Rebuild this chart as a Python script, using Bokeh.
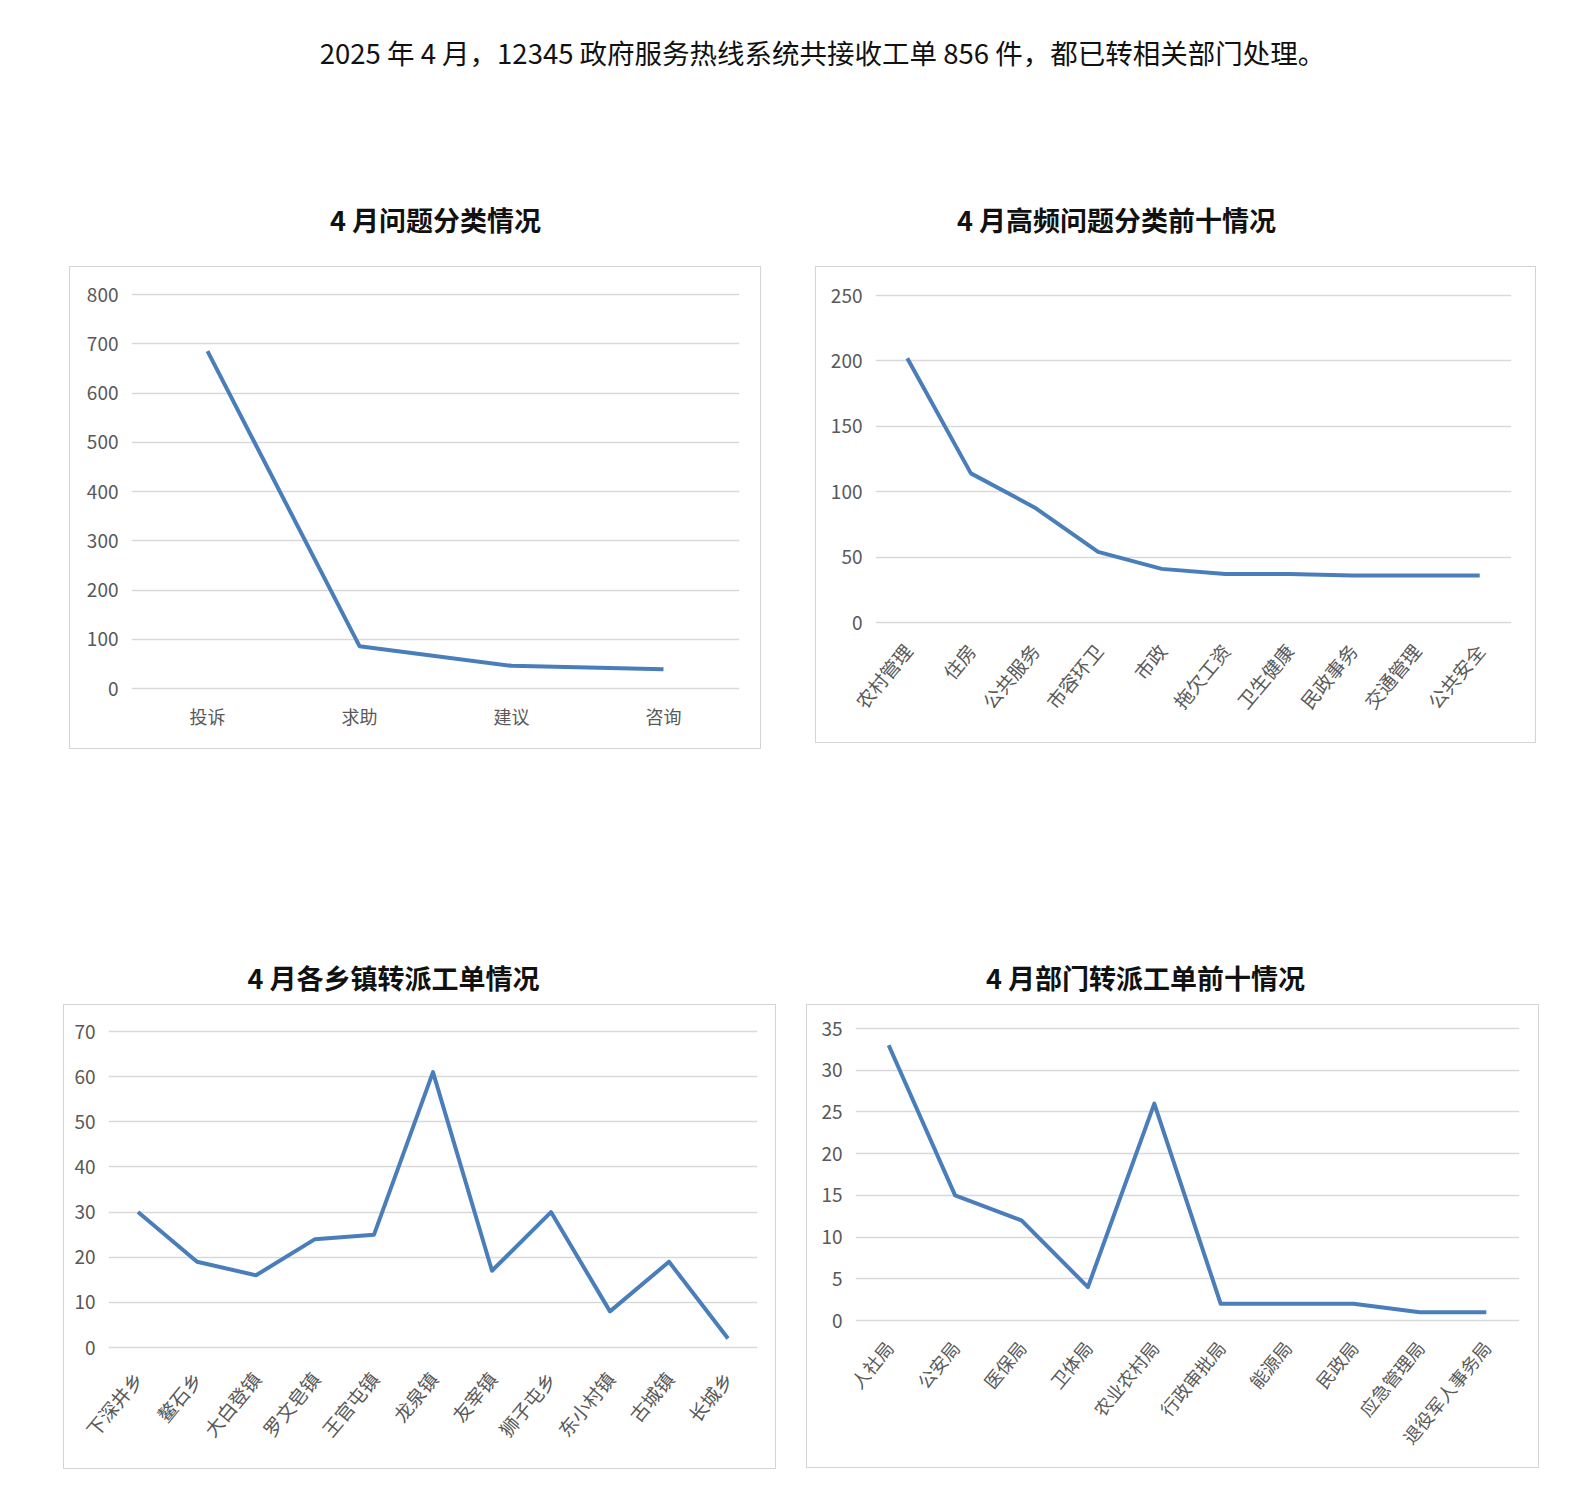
from bokeh.plotting import figure
from bokeh.models import Range1d, FactorRange, FixedTicker, Label, Spacer
from bokeh.layouts import row, column
from bokeh.embed import file_html
from bokeh.resources import INLINE

# ---------------- data ----------------
page_title = "2025 年 4 月，12345 政府服务热线系统共接收工单 856 件，都已转相关部门处理。"

title_a = "4 月问题分类情况"
cats_a = ["投诉", "求助", "建议", "咨询"]
vals_a = [685, 86, 46, 39]
ticks_a = [0, 100, 200, 300, 400, 500, 600, 700, 800]

title_b = "4 月高频问题分类前十情况"
cats_b = ["农村管理", "住房", "公共服务", "市容环卫", "市政", "拖欠工资", "卫生健康", "民政事务", "交通管理", "公共安全"]
vals_b = [202, 114, 88, 54, 41, 37, 37, 36, 36, 36]
ticks_b = [0, 50, 100, 150, 200, 250]

title_c = "4 月各乡镇转派工单情况"
cats_c = ["下深井乡", "鳌石乡", "大白登镇", "罗文皂镇", "王官屯镇", "龙泉镇", "友宰镇", "狮子屯乡", "东小村镇", "古城镇", "长城乡"]
vals_c = [30, 19, 16, 24, 25, 61, 17, 30, 8, 19, 2]
ticks_c = [0, 10, 20, 30, 40, 50, 60, 70]

title_d = "4 月部门转派工单前十情况"
cats_d = ["人社局", "公安局", "医保局", "卫体局", "农业农村局", "行政审批局", "能源局", "民政局", "应急管理局", "退役军人事务局"]
vals_d = [33, 15, 12, 4, 26, 2, 2, 2, 1, 1]
ticks_d = [0, 5, 10, 15, 20, 25, 30, 35]

FONT = "Noto Sans CJK SC"
LINE_COLOR = "#4a7ebb"
GRID_COLOR = "#d9d9d9"
LABEL_COLOR = "#595959"


def text_fig(w, h, text, x, y_from_top, size, bold):
    p = figure(width=w, height=h, output_backend="svg", toolbar_location=None,
               x_range=Range1d(0, 1), y_range=Range1d(0, 1),
               x_axis_type=None, y_axis_type=None, min_border=0)
    p.outline_line_color = None
    p.grid.visible = False
    p.add_layout(Label(x=x, y=h - y_from_top, x_units="screen", y_units="screen",
                       text=text, text_font=FONT, text_font_size=f"{size}px",
                       text_font_style="bold" if bold else "normal",
                       text_color="#111111", text_align="center", text_baseline="middle"))
    return p


def chart(w, h, cats, vals, ticks, ymax, mb, rotate, standoff, cat_size):
    left, right, top, bottom = mb
    frame_h = h - top - bottom
    pad = 2.0 * ymax / frame_h
    p = figure(width=w, height=h, output_backend="svg", toolbar_location=None,
               x_range=FactorRange(*cats, range_padding=0),
               y_range=Range1d(-pad, ymax + pad),
               min_border_left=left, min_border_right=right,
               min_border_top=top - 2, min_border_bottom=bottom - 2)
    p.line(x=cats, y=vals, line_color=LINE_COLOR, line_width=4, line_join="round")
    p.outline_line_color = None
    p.xgrid.visible = False
    p.ygrid.grid_line_color = GRID_COLOR
    p.ygrid.grid_line_width = 1.5
    p.yaxis.ticker = FixedTicker(ticks=ticks)
    for ax in (p.xaxis, p.yaxis):
        ax.axis_line_color = None
        ax.major_tick_line_color = None
        ax.minor_tick_line_color = None
        ax.major_tick_out = 0
        ax.major_tick_in = 0
        ax.major_label_text_font = FONT
        ax.major_label_text_color = LABEL_COLOR
    p.yaxis.major_label_text_font_size = "19px"
    p.xaxis.major_label_text_font_size = f"{cat_size}px"
    p.yaxis.major_label_standoff = 13
    p.xaxis.major_label_standoff = standoff
    if rotate:
        p.xaxis.major_label_orientation = 0.88
    p.styles = {"border": "1px solid #d4d4d4"}
    return p


title_fig = text_fig(1571, 158, page_title, 822, 51, 27.5, False)

mb_a = (61, 23, 27, 62)
mb_b = (59, 26, 28, 122)
mb_c = (44, 20, 26, 123)
mb_d = (48, 21, 23, 149)

# heading labels are positioned relative to the chart frame they align with
head_a = text_fig(692, 108, title_a, 366 - mb_a[0], 61, 27, True)
chart_a = chart(692, 483, cats_a, vals_a, ticks_a, 800, mb_a, False, 12, 18)

head_b = text_fig(721, 108, title_b, 301 - mb_b[0], 61, 27, True)
chart_b = chart(721, 477, cats_b, vals_b, ticks_b, 250, mb_b, True, 22, 19)

head_c = text_fig(713, 255, title_c, 330 - mb_c[0], 228, 27, True)
chart_c = chart(713, 465, cats_c, vals_c, ticks_c, 70, mb_c, True, 25, 19)

head_d = text_fig(733, 255, title_d, 339 - mb_d[0], 228, 27, True)
chart_d = chart(733, 464, cats_d, vals_d, ticks_d, 35, mb_d, True, 21, 18)

row1 = row(Spacer(width=69), column(head_a, chart_a), Spacer(width=54), column(head_b, chart_b))
row2 = row(Spacer(width=63), column(head_c, chart_c), Spacer(width=30), column(head_d, chart_d))
layout = column(title_fig, row1, row2)

open("out.html", "w").write(file_html(layout, INLINE))
